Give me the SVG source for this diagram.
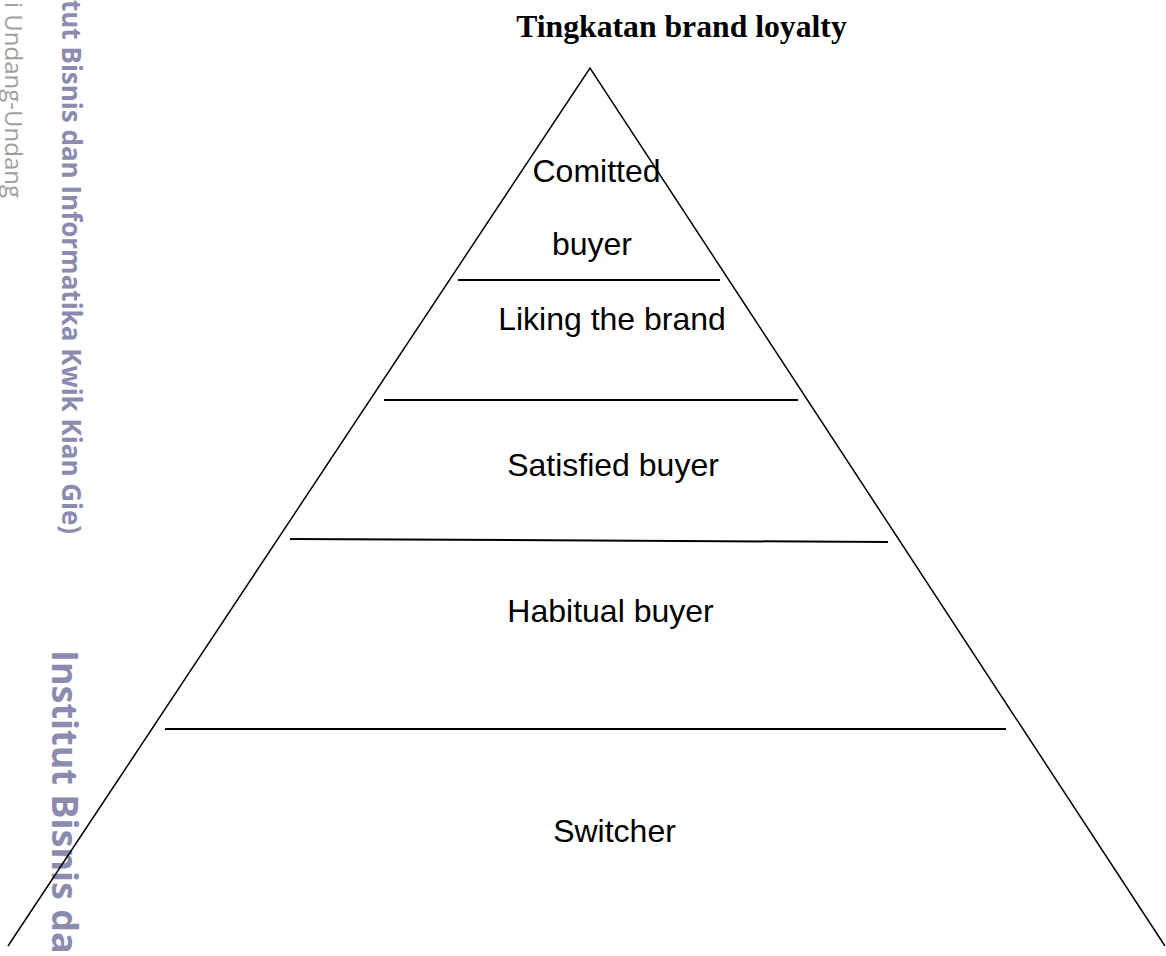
<svg xmlns="http://www.w3.org/2000/svg" width="1166" height="956" viewBox="0 0 1166 956">
<style>
.edge{fill:none;stroke:#000;stroke-width:1.5}
.div{fill:none;stroke:#000;stroke-width:2}
.lbl{font-family:"Liberation Sans",Arial,sans-serif;font-size:32px;fill:#000;text-anchor:middle}
.title{font-family:"Liberation Serif","Times New Roman",serif;font-size:31.7px;font-weight:bold;fill:#000;text-anchor:middle}
.wm{font-family:"Open Sans","DejaVu Sans",sans-serif;font-weight:bold;fill:#8b8bb0}
.wm2{font-family:"Open Sans","DejaVu Sans",sans-serif;fill:#a0a0a0}
</style>
<rect width="1166" height="956" fill="#fff"/>
<g id="watermark">
<text class="wm2" font-size="24" transform="translate(5,2) rotate(90)" x="0" y="0">i Undang-Undang</text>
<text class="wm" font-size="26" transform="translate(62,0) rotate(90)" x="0" y="0">tut Bisnis dan Informatika Kwik Kian Gie)</text>
<text class="wm" font-size="36" transform="translate(52,650) rotate(90)" x="0" y="0">Institut Bisnis da</text>
</g>
<g id="title">
<text class="title" x="681.5" y="37">Tingkatan brand loyalty</text>
</g>
<g id="connectors">
<polyline class="edge" points="8,946 590,68 1165,946"/>
<line class="div" x1="458" y1="280" x2="720" y2="280"/>
<line class="div" x1="384" y1="400" x2="798" y2="400"/>
<line class="div" x1="290" y1="539" x2="888" y2="542"/>
<line class="div" x1="165" y1="729" x2="1006" y2="729"/>
</g>
<g id="committed-buyer">
<text class="lbl" x="596.5" y="182">Comitted</text>
<text class="lbl" x="592" y="255">buyer</text>
</g>
<g id="liking-the-brand">
<text class="lbl" x="612" y="330">Liking the brand</text>
</g>
<g id="satisfied-buyer">
<text class="lbl" x="613" y="476">Satisfied buyer</text>
</g>
<g id="habitual-buyer">
<text class="lbl" x="610.5" y="622">Habitual buyer</text>
</g>
<g id="switcher">
<text class="lbl" x="614.5" y="842">Switcher</text>
</g>
</svg>
